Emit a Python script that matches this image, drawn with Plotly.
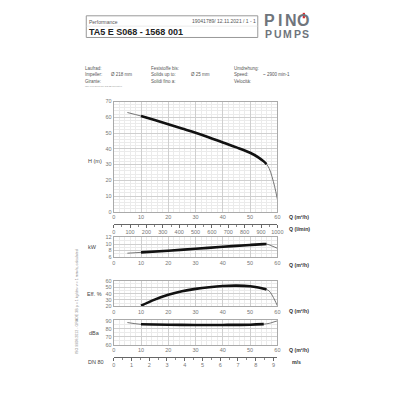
import plotly.graph_objects as go

# ---------------- data ----------------
q_h = [5, 10, 15, 20, 25, 30, 35, 40, 45, 50, 53, 55, 56, 57, 58, 59, 60]
h_m = [63.0, 60.8, 58.2, 55.6, 52.9, 50.2, 47.2, 44.0, 40.9, 37.5, 34.6, 32.0, 30.3, 27.5, 22.5, 16.0, 8.0]

q_p = [5, 10, 20, 30, 40, 50, 55, 56, 58, 60]
p_kw = [7.2, 7.45, 7.95, 8.55, 9.15, 9.7, 9.95, 10.0, 9.4, 8.7]

q_e = [10, 15, 20, 25, 30, 35, 40, 45, 50, 53, 55, 56, 57, 58, 59, 60]
eff = [21.0, 30.5, 38.0, 43.5, 47.3, 50.0, 51.8, 52.4, 51.5, 49.5, 47.5, 46.3, 44.0, 38.0, 30.0, 21.0]

q_n = [5, 10, 20, 30, 40, 50, 55, 57, 58, 60]
dba = [88.0, 85.8, 85.2, 85.0, 85.0, 85.3, 86.0, 87.0, 88.0, 90.2]

op_range = [10, 56]  # operating range (thick curve portion)

main_x_ticks = [0, 10, 20, 30, 40, 50, 60]
lmin_ticks = [0, 100, 200, 300, 400, 500, 600, 700, 800, 900, 1000]
ms_ticks = [0, 1, 2, 3, 4, 5, 6, 7, 8, 9]

# ---------------- helpers ----------------
W = H = 400


def px(x):
    return x / W


def py(y):
    return 1 - y / H


TICK = dict(size=5.5, color="#777", family="Liberation Sans, Arial")
GRID = "#cfcfcf"
MINOR = "#ebebeb"
FRAME = "#aaaaaa"

fig = go.Figure()


def add_curve(xs, ys, xa, ya):
    fig.add_trace(go.Scatter(x=xs, y=ys, xaxis=xa, yaxis=ya, mode="lines",
                             line=dict(color="#666", width=0.9, shape="spline"),
                             hoverinfo="skip", showlegend=False))
    tx = [x for x in xs if op_range[0] <= x <= op_range[1]]
    ty = [y for x, y in zip(xs, ys) if op_range[0] <= x <= op_range[1]]
    fig.add_trace(go.Scatter(x=tx, y=ty, xaxis=xa, yaxis=ya, mode="lines",
                             line=dict(color="#111", width=2.6, shape="spline"),
                             hoverinfo="skip", showlegend=False))


add_curve(q_h, h_m, "x", "y")
add_curve(q_p, p_kw, "x3", "y3")
add_curve(q_e, eff, "x4", "y4")
add_curve(q_n, dba, "x5", "y5")

# invisible traces to keep the extra axes alive
fig.add_trace(go.Scatter(x=[0, 1000], y=[None, None], xaxis="x2", yaxis="y",
                         mode="lines", showlegend=False, hoverinfo="skip"))
fig.add_trace(go.Scatter(x=[0, 9], y=[None, None], xaxis="x6", yaxis="y5",
                         mode="lines", showlegend=False, hoverinfo="skip"))

xdom = [px(114), px(281)]


def xax(anchor, minor_dtick=2):
    return dict(domain=xdom, anchor=anchor, range=[0, 60], tickvals=main_x_ticks,
                showgrid=True, gridcolor=GRID, gridwidth=1,
                minor=dict(dtick=minor_dtick, showgrid=True, gridcolor=MINOR),
                showline=True, linecolor=FRAME, mirror=True, linewidth=1,
                ticks="", tickfont=TICK, zeroline=False, fixedrange=True)


def yax(anchor, dom, rng, tickvals, minor_dtick):
    return dict(domain=dom, anchor=anchor, range=rng, tickvals=tickvals,
                showgrid=True, gridcolor=GRID, gridwidth=1,
                minor=dict(dtick=minor_dtick, showgrid=True, gridcolor=MINOR),
                showline=True, linecolor=FRAME, mirror=True, linewidth=1,
                ticks="", tickfont=TICK, zeroline=False, fixedrange=True)


fig.update_layout(
    width=W, height=H, margin=dict(l=0, r=0, t=0, b=0),
    paper_bgcolor="white", plot_bgcolor="white", showlegend=False,
    xaxis=xax("y"),
    yaxis=yax("x", [py(212), py(100)], [0, 70], [0, 10, 20, 30, 40, 50, 60, 70], 2),
    xaxis2=dict(domain=xdom, overlaying="x", anchor="free", position=py(224), side="bottom",
                range=[0, 1000], tickvals=lmin_ticks, showgrid=False, showline=True,
                linecolor="#666", ticks="outside", ticklen=3, tickcolor="#666",
                minor=dict(dtick=50, ticks="outside", ticklen=2, tickcolor="#888"),
                tickfont=TICK, zeroline=False, fixedrange=True),
    xaxis3=xax("y3"),
    yaxis3=yax("x3", [py(258), py(238)], [6, 12], [6, 8, 10, 12], 1),
    xaxis4=xax("y4"),
    yaxis4=yax("x4", [py(308), py(282)], [20, 60], [20, 30, 40, 50, 60], 5),
    xaxis5=xax("y5"),
    yaxis5=yax("x5", [py(347), py(322)], [60, 91], [60, 70, 80, 90], 5),
    xaxis6=dict(domain=xdom, overlaying="x5", anchor="free", position=py(359), side="bottom",
                range=[0, 9.22], tickvals=ms_ticks, showgrid=False, showline=True,
                linecolor="#666", ticks="outside", ticklen=3, tickcolor="#666",
                minor=dict(dtick=0.5, ticks="outside", ticklen=2, tickcolor="#888"),
                tickfont=TICK, zeroline=False, fixedrange=True),
    font=dict(family="Liberation Sans, Arial", color="#444"),
)

ann = []


def text(x, y, s, size=5, color="#555", xanchor="left", bold=False, angle=0):
    if bold:
        s = "<b>" + s + "</b>"
    ann.append(dict(x=px(x), y=py(y), xref="paper", yref="paper", text=s,
                    showarrow=False, xanchor=xanchor, yanchor="middle",
                    textangle=angle, borderpad=0,
                    font=dict(size=size, color=color, family="Liberation Sans, Arial")))


# header box
text(88, 19, "Performance", 5)
text(260, 18, "19041789/ 12.11.2021 / 1 - 1", 5, xanchor="right")
text(88, 29.5, "TA5 E S068 - 1568 001", 9, color="#222", bold=True)

# logo (letter-spaced)
LOGO = "#6f757c"
for ch, cx in zip("PINO", [273, 284, 294.5, 307.5]):
    text(cx, 18, ch, 16, color=LOGO, xanchor="center", bold=True)
for ch, cx in zip("PUMPS", [272, 281.5, 291.5, 301.5, 310]):
    text(cx, 31.5, ch, 10.5, color=LOGO, xanchor="center", bold=True)

# info block
text(84, 67, "Laufrad:", 4.5)
text(84, 73, "Impeller:", 4.5)
text(84, 79.5, "Girante:", 4.5)
text(84, 84, "ISO 9906:2012 GRADE 3B calculated", 2.2, color="#999")
text(110, 73, "Ø 218 mm", 4.5)
text(151, 67, "Feststoffe bis:", 4.5)
text(151, 73, "Solids up to:", 4.5)
text(151, 79.5, "Solidi fino a:", 4.5)
text(192, 73, "Ø 25 mm", 4.5)
text(236, 67, "Umdrehung:", 4.5)
text(236, 73, "Speed:", 4.5)
text(236, 79.5, "Velocità:", 4.5)
text(265, 73, "~ 2900 min-1", 4.5)

# axis titles
text(87, 160, "H (m)", 5.5, color="#444")
text(87, 248, "kW", 5.5, color="#444")
text(86, 295, "Eff. %", 5.5, color="#444")
text(88, 335, "dBa", 5.5, color="#444")
text(87, 364, "DN 80", 5.5, color="#444")

qlab = "Q (m³/h)"
text(292, 217, qlab, 5.2, color="#333", bold=True)
text(292, 229, "Q (l/min)", 5.2, color="#333", bold=True)
text(292, 266, qlab, 5.2, color="#333", bold=True)
text(292, 313, qlab, 5.2, color="#333", bold=True)
text(292, 352, qlab, 5.2, color="#333", bold=True)
text(295, 364, "m/s", 5.2, color="#333", bold=True)

text(77, 303, "ISO 9906:2012 - GRADE 3B ρ = 1 kg/dm³ ν = 1 mm²/s, calculated", 3.6,
     color="#888", xanchor="center", angle=-90)

fig.update_layout(annotations=ann)

shapes = [
    dict(type="rect", xref="paper", yref="paper", x0=px(86), x1=px(261), y0=py(35), y1=py(13),
         line=dict(color="#999", width=1)),
    dict(type="line", xref="paper", yref="paper", x0=px(86), x1=px(261), y0=py(23.5), y1=py(23.5),
         line=dict(color="#ddd", width=0.6)),
    dict(type="line", xref="paper", yref="paper", x0=px(308), x1=px(308), y0=py(10), y1=py(15.5),
         line=dict(color="#d9262c", width=2.2)),
]
fig.update_layout(shapes=shapes)

fig.write_html("out.html")
